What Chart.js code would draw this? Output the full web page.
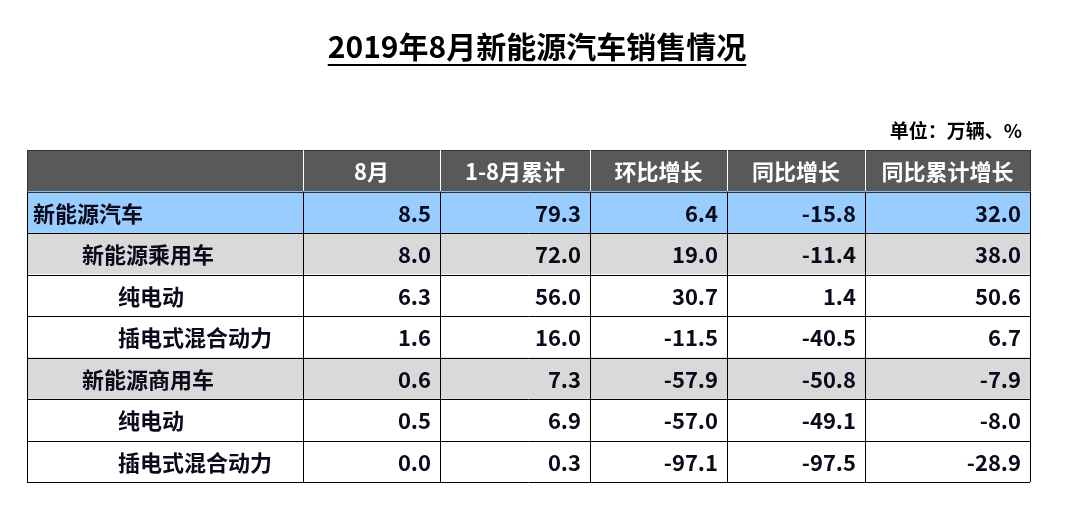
<!DOCTYPE html>
<html><head><meta charset="utf-8">
<script src="https://cdn.jsdelivr.net/npm/chart.js@4"></script>
<style>html,body{margin:0;padding:0;background:#fff}#w{position:relative;width:1069px;height:528px}</style>
</head><body><div id="w"><canvas id="c" width="1069" height="528"></canvas></div>
<script>
const title = "2019年8月新能源汽车销售情况";
const unitText = "单位：万辆、%";
const headers = ["", "8月", "1-8月累计", "环比增长", "同比增长", "同比累计增长"];
const rowLabels = ["新能源汽车","新能源乘用车","纯电动","插电式混合动力","新能源商用车","纯电动","插电式混合动力"];
const rowIndent = [0, 1, 2, 2, 1, 2, 2];
const monthly = [8.5, 8.0, 6.3, 1.6, 0.6, 0.5, 0.0];
const cumulative = [79.3, 72.0, 56.0, 16.0, 7.3, 6.9, 0.3];
const momGrowth = [6.4, 19.0, 30.7, -11.5, -57.9, -57.0, -97.1];
const yoyGrowth = [-15.8, -11.4, 1.4, -40.5, -50.8, -49.1, -97.5];
const yoyCumGrowth = [32.0, 38.0, 50.6, 6.7, -7.9, -8.0, -28.9];
const columns = [monthly, cumulative, momGrowth, yoyGrowth, yoyCumGrowth];

// layout (style only)
const colEdges = [0, 276, 413, 563, 700, 838, 1003]; // relative to chart area width 1003
const rowFill = ["#595959","#99ccff","#d9d9d9","#ffffff","#ffffff","#d9d9d9","#ffffff","#ffffff"];
const cats = ["header"].concat(rowLabels.map((r,i)=>i+":"+r));
const FONT = '"Noto Sans CJK SC","DejaVu Sans",sans-serif';

const tablePlugin = {
  id:'table',
  afterDatasetsDraw(chart){
    const {ctx, chartArea:a, scales:{x,y}} = chart;
    const W = a.right - a.left;
    const cx = i => x.getPixelForValue(colEdges[i]/W* (x.max - x.min) + x.min);
    const band = (y.getPixelForValue(1) - y.getPixelForValue(0));
    const top = i => y.getPixelForValue(i) - band/2;
    ctx.save();
    // grid lines
    ctx.lineWidth = 1;
    for (let r = 0; r <= cats.length; r++) {
      ctx.strokeStyle = r <= 1 ? "#333" : "#000";
      ctx.beginPath(); ctx.moveTo(a.left, Math.round(top(r))+0.5); ctx.lineTo(a.right, Math.round(top(r))+0.5); ctx.stroke();
    }
    for (let c = 0; c < colEdges.length; c++) {
      const px = Math.round(cx(c))+0.5;
      // header part
      ctx.strokeStyle = (c===0||c===colEdges.length-1) ? "#333" : "#fff";
      ctx.beginPath(); ctx.moveTo(px, top(0)); ctx.lineTo(px, top(1)); ctx.stroke();
      ctx.strokeStyle = "#000";
      ctx.beginPath(); ctx.moveTo(px, top(1)); ctx.lineTo(px, top(cats.length)); ctx.stroke();
    }
    // header text
    ctx.font = "bold 22px " + FONT;
    ctx.fillStyle = "#fff"; ctx.textBaseline = "middle"; ctx.textAlign = "center";
    for (let c = 1; c < headers.length; c++) {
      ctx.fillText(headers[c], (cx(c)+cx(c+1))/2, y.getPixelForValue(0)+1);
    }
    // body
    ctx.fillStyle = "#0a0a1a";
    for (let r = 0; r < rowLabels.length; r++) {
      const py = y.getPixelForValue(r+1)+1;
      ctx.textAlign = "left";
      ctx.fillText(rowLabels[r], a.left + [6,55,91][rowIndent[r]], py);
      ctx.textAlign = "right";
      for (let c = 0; c < columns.length; c++) {
        ctx.fillText(columns[c][r].toFixed(1), cx(c+2) - 9, py);
      }
    }
    // title & unit
    ctx.textAlign = "center"; ctx.fillStyle = "#000";
    ctx.font = "bold 30px " + FONT;
    ctx.fillText(title, 537, 47);
    const tw = ctx.measureText(title).width;
    ctx.fillRect(537 - tw/2, 64, tw, 2);
    ctx.textAlign = "right"; ctx.font = "bold 19px " + FONT;
    ctx.fillText(unitText, 1022, 131);
    ctx.restore();
  }
};

new Chart(document.getElementById('c'), {
  type:'bar',
  data:{ labels: cats, datasets:[{ data: cats.map(()=>[0,1]), backgroundColor: rowFill, borderWidth:0, barPercentage:1, categoryPercentage:1 }]},
  options:{
    indexAxis:'y', responsive:false, animation:false,
    layout:{ padding:{ left:27, right:39, top:150, bottom:46 } },
    plugins:{ legend:{display:false}, tooltip:{enabled:false} },
    scales:{
      x:{ type:'linear', min:0, max:1, display:false },
      y:{ type:'category', display:false, offset:true }
    }
  },
  plugins:[tablePlugin]
});
</script></body></html>
